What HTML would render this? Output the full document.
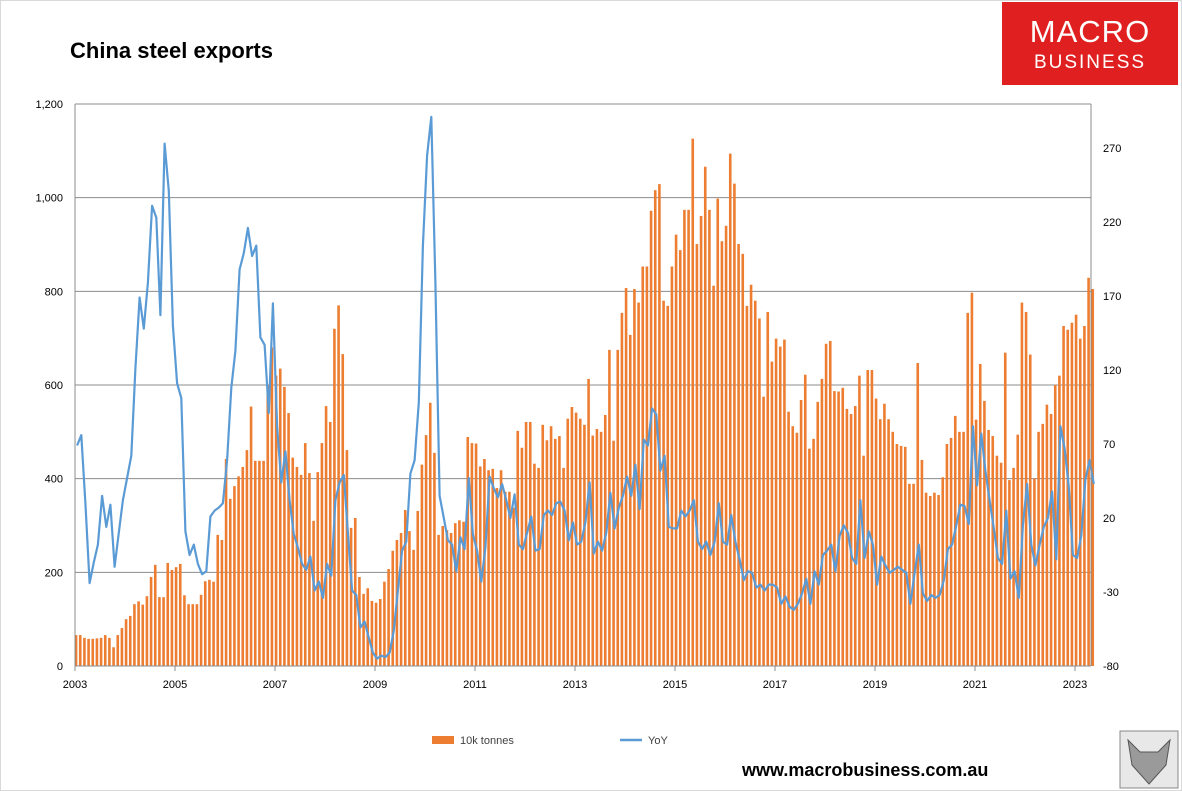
<!DOCTYPE html>
<html><head><meta charset="utf-8"><style>
body{margin:0;background:#fff;}
svg{display:block;font-family:"Liberation Sans",sans-serif;}
</style></head><body>
<svg id="chart" width="1182" height="791" viewBox="0 0 1182 791">
<rect x="0.5" y="0.5" width="1181" height="790" fill="#fff" stroke="#d9d9d9"/>
<text x="70" y="58" font-size="22" font-weight="bold" fill="#000">China steel exports</text>
<g>
<rect x="1002" y="2" width="176" height="83" fill="#e02020"/>
<text x="1090" y="42" font-size="31" fill="#fff" text-anchor="middle" letter-spacing="1">MACRO</text>
<text x="1090" y="68" font-size="19" fill="#fff" text-anchor="middle" letter-spacing="2">BUSINESS</text>
</g>
<g id="grid"></g>
<g id="bars"></g>
<g id="line"></g>
<g id="axes"></g>
<g>
<rect x="432" y="736" width="22" height="8" fill="#ed7d31"/>
<text x="460" y="744" font-size="11" fill="#404040">10k tonnes</text>
<line x1="620" y1="740" x2="642" y2="740" stroke="#5b9bd5" stroke-width="2.5"/>
<text x="648" y="744" font-size="11" fill="#404040">YoY</text>
</g>
<text x="742" y="776" font-size="18" font-weight="bold" fill="#000">www.macrobusiness.com.au</text>
<g>
<rect x="1120" y="731" width="58" height="57" fill="#e8e8e8" stroke="#888"/>
<path d="M1128 740 L1140 752 L1158 752 L1170 740 L1166 765 L1149 784 L1132 765 Z" fill="#9a9a9a" stroke="#555"/>
</g>
</svg>
<script>
const years=["2003","2005","2007","2009","2011","2013","2015","2017","2019","2021","2023"];
const leftTicks=[0,200,400,600,800,1000,1200];
const rightTicks=[-80,-30,20,70,120,170,220,270];
const tonnes=[
66,66,60,58,58,59,60,66,60,40,66,81,
100,107,132,138,131,149,190,216,147,147,220,205,
211,218,151,132,132,132,152,181,184,180,280,269,
442,357,384,405,425,461,554,438,438,438,600,680,
620,635,596,540,445,425,408,476,412,310,414,476,
555,521,720,770,666,461,295,316,190,154,166,139,
135,143,180,207,246,269,284,333,288,248,331,430,
493,562,455,280,299,290,284,305,311,308,489,476,
475,426,442,418,421,380,418,372,372,338,502,466,
521,521,432,423,515,482,512,485,491,423,528,553,
541,528,515,613,492,506,500,536,675,481,675,754,
807,707,805,776,853,853,972,1016,1029,780,769,853,
921,888,974,974,1126,901,961,1066,974,812,998,907,
940,1094,1030,901,880,769,814,780,742,575,756,650,
699,682,697,543,512,498,568,622,464,485,564,613,
688,694,587,586,594,549,538,555,620,449,632,632,
571,527,560,527,500,474,470,468,389,389,647,440,
370,363,370,365,403,474,487,534,500,500,754,797,
526,645,566,504,491,449,434,669,397,423,494,776,
756,665,400,500,517,558,538,600,620,726,718,733,
750,699,726,829,805];
const yoy=[
69,76,30,-24,-10,2,35,14,29,-13,10,32,
47,62,121,169,148,179,231,223,157,273,241,150,
111,101,11,-5,2,-11,-18,-16,21,25,27,30,
59,108,133,188,199,216,197,204,142,137,91,165,
82,44,65,32,9,0,-11,-15,-6,-29,-23,-34,
-11,-19,32,44,49,10,-29,-32,-54,-50,-61,-71,
-75,-73,-74,-71,-56,-29,-2,4,50,59,98,204,
265,291,179,35,20,5,2,-16,7,-1,47,9,
-2,-23,0,48,40,34,43,32,20,36,2,-1,
10,21,-2,-1,22,25,22,30,31,25,5,17,
2,4,17,44,-4,4,-2,10,37,13,27,35,
48,35,56,26,73,69,94,90,52,62,14,13,
13,25,21,25,32,4,-1,4,-5,4,30,4,
2,22,4,-8,-22,-16,-17,-27,-25,-29,-25,-25,
-27,-38,-33,-40,-42,-38,-31,-21,-38,-16,-25,-5,
-2,2,-16,8,15,10,-7,-11,32,-7,11,2,
-25,-6,-12,-17,-15,-13,-15,-17,-38,-17,2,-31,
-36,-32,-34,-32,-22,-1,2,15,29,28,16,82,
42,77,52,32,13,-7,-11,25,-21,-16,-34,15,
43,2,-12,2,14,20,38,-8,82,67,41,-5,
-7,8,46,59,43];
const NS='http://www.w3.org/2000/svg';
const X0=75,X1=1091,YB=666,YT=104;
function xYear(i){return X0+i*100;}
function xMonth(m){return X0+(m+0.5)*(1000/240);}
function yL(v){return YB-(v/1200)*(YB-YT);}
function yR(v){return YB-((v+80)/350)*518;}
function mk(tag,attrs,parent){const e=document.createElementNS(NS,tag);for(const k in attrs)e.setAttribute(k,attrs[k]);parent.appendChild(e);return e;}
const grid=document.getElementById('grid'),axes=document.getElementById('axes'),barsG=document.getElementById('bars'),lineG=document.getElementById('line');
leftTicks.forEach(v=>{
  if(v>0){const g=mk('line',{x1:X0,x2:X1,y1:yL(v),y2:yL(v),stroke:'#8c8c8c','stroke-width':1},grid);
  
  }
  const t=mk('text',{x:63,y:yL(v)+4,'font-size':11,'text-anchor':'end',fill:'#000'},axes);
  t.textContent=v.toLocaleString('en-US');
  
  
});
rightTicks.forEach(v=>{
  const t=mk('text',{x:1103,y:yR(v)+4,'font-size':11,fill:'#000'},axes);
  t.textContent=v;
  
  
});
years.forEach((y,i)=>{
  const t=mk('text',{x:xYear(i),y:688,'font-size':11,'text-anchor':'middle',fill:'#000'},axes);
  t.textContent=y;
  
  
  const tk=mk('line',{x1:xYear(i),x2:xYear(i),y1:YB,y2:YB+5,stroke:'#8c8c8c'},axes);
  
  
});
[[X0,X0,YT,YB],[X1,X1,YT,YB],[X0,X1,YB,YB]].forEach(a=>{
  const l=mk('line',{x1:a[0],x2:a[1],y1:a[2],y2:a[3],stroke:'#8c8c8c'},axes);
  
  
});
tonnes.forEach((v,i)=>{
  const r=mk('rect',{x:xMonth(i)-2.3,y:yL(v),width:2.6,height:YB-yL(v),fill:'#ed7d31'},barsG);
  
  
});
const pts=yoy.map((v,i)=>xMonth(i).toFixed(1)+','+yR(v).toFixed(1)).join(' ');
const pl=mk('polyline',{points:pts,fill:'none',stroke:'#5b9bd5','stroke-width':2.2,'stroke-linejoin':'round'},lineG);


</script>
</body></html>
